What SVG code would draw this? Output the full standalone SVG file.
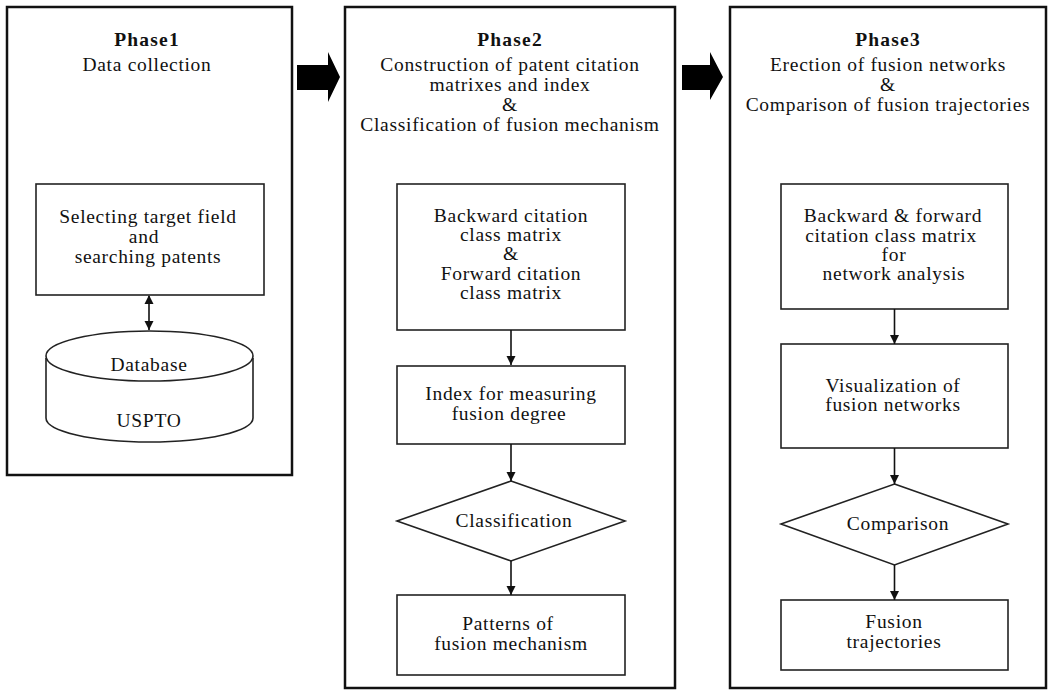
<svg xmlns="http://www.w3.org/2000/svg" width="1053" height="690" viewBox="0 0 1053 690" font-family="'Liberation Serif', 'Times New Roman', 'DejaVu Serif', serif">
<style>
text{font-family:'Liberation Serif','Times New Roman','DejaVu Serif',serif;font-size:19.5px;letter-spacing:0.7px;fill:#111;text-anchor:middle}
.t{font-weight:bold;letter-spacing:1.2px}
.phase{fill:#fff;stroke:#111;stroke-width:2.5}
.box{fill:#fff;stroke:#222;stroke-width:1.6}
.con{stroke:#111;stroke-width:1.6;fill:none}
</style>
<defs>
<marker id="ah" markerWidth="10" markerHeight="10" refX="9" refY="5" orient="auto" markerUnits="userSpaceOnUse">
<path d="M0,0.5 L9,5 L0,9.5 Z" fill="#111"/>
</marker>
<marker id="as" markerWidth="10" markerHeight="10" refX="1" refY="5" orient="auto" markerUnits="userSpaceOnUse">
<path d="M9,0.5 L0,5 L9,9.5 Z" fill="#111"/>
</marker>
</defs>
<rect width="1053" height="690" fill="#fff"/>

<g id="phase1">
<rect class="phase" x="7" y="7" width="285" height="468"/>
<text class="t" x="147" y="46">Phase1</text>
<text x="147" y="71">Data collection</text>
</g>
<g id="phase2">
<rect class="phase" x="345" y="7" width="330" height="681"/>
<text class="t" x="510" y="46">Phase2</text>
<text x="510" y="71">Construction of patent citation</text>
<text x="510" y="91">matrixes and index</text>
<text x="510" y="111">&amp;</text>
<text x="510" y="131">Classification of fusion mechanism</text>
</g>
<g id="phase3">
<rect class="phase" x="730" y="7" width="316" height="681"/>
<text class="t" x="888" y="46">Phase3</text>
<text x="888" y="71">Erection of fusion networks</text>
<text x="888" y="91">&amp;</text>
<text x="888" y="111">Comparison of fusion trajectories</text>
</g>

<g id="select">
<rect class="box" x="36" y="184" width="228" height="111"/>
<text x="148" y="223">Selecting target field</text>
<text x="144" y="243">and</text>
<text x="148" y="263">searching patents</text>
</g>
<g id="database">
<path class="box" d="M46,358 L46,418 A103.5,24 0 0 0 253,418 L253,358"/>
<ellipse class="box" cx="149.5" cy="356" rx="103.5" ry="25"/>
<text x="149" y="371">Database</text>
<text x="149" y="427">USPTO</text>
</g>

<g id="matrix2">
<rect class="box" x="397" y="184" width="228" height="146"/>
<text x="511" y="222">Backward citation</text>
<text x="511" y="241">class matrix</text>
<text x="511" y="260">&amp;</text>
<text x="511" y="280">Forward citation</text>
<text x="511" y="299">class matrix</text>
</g>
<g id="index">
<rect class="box" x="397" y="366" width="228" height="78"/>
<text x="511" y="400">Index for measuring</text>
<text x="509" y="420">fusion degree</text>
</g>
<g id="classification">
<polygon class="box" points="511,481 625,521 511,561 397,521"/>
<text x="514" y="527">Classification</text>
</g>
<g id="patterns">
<rect class="box" x="397" y="595" width="228" height="80"/>
<text x="508" y="630">Patterns of</text>
<text x="511" y="650">fusion mechanism</text>
</g>

<g id="matrix3">
<rect class="box" x="781" y="184" width="227" height="125"/>
<text x="893" y="222">Backward &amp; forward</text>
<text x="891" y="242">citation class matrix</text>
<text x="894" y="261">for</text>
<text x="894" y="280">network analysis</text>
</g>
<g id="visual">
<rect class="box" x="781" y="344" width="227" height="104"/>
<text x="893" y="392">Visualization of</text>
<text x="893" y="411">fusion networks</text>
</g>
<g id="comparison">
<polygon class="box" points="894.5,484 1008,524 894.5,565 781,524"/>
<text x="898" y="530">Comparison</text>
</g>
<g id="trajectories">
<rect class="box" x="781" y="600" width="227" height="70"/>
<text x="894" y="628">Fusion</text>
<text x="894" y="648">trajectories</text>
</g>

<g id="connectors">
<polygon points="297,65 328,65 328,52 340,77 328,102 328,90 297,90" fill="#000"/>
<polygon points="682,65 710,65 710,52 723,77 710,100 710,90 682,90" fill="#000"/>
<line class="con" x1="149" y1="296" x2="149" y2="330" marker-start="url(#as)" marker-end="url(#ah)"/>
<line class="con" x1="511" y1="330" x2="511" y2="365" marker-end="url(#ah)"/>
<line class="con" x1="511" y1="444" x2="511" y2="481" marker-end="url(#ah)"/>
<line class="con" x1="511" y1="561" x2="511" y2="595" marker-end="url(#ah)"/>
<line class="con" x1="894.5" y1="309" x2="894.5" y2="344" marker-end="url(#ah)"/>
<line class="con" x1="894.5" y1="448" x2="894.5" y2="484" marker-end="url(#ah)"/>
<line class="con" x1="894.5" y1="565" x2="894.5" y2="600" marker-end="url(#ah)"/>
</g>
</svg>
